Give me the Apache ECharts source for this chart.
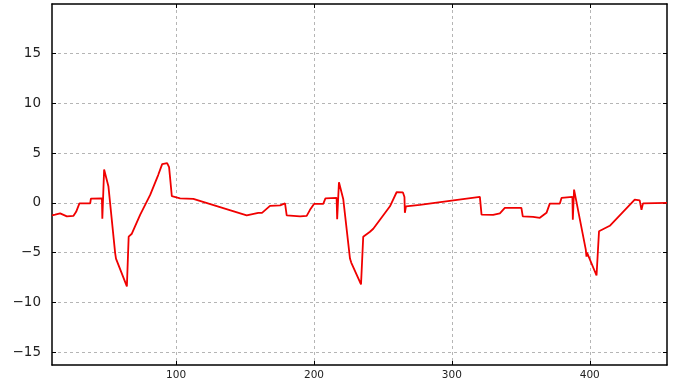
<!DOCTYPE html>
<html>
<head>
<meta charset="utf-8">
<script src="https://cdn.jsdelivr.net/npm/echarts@6/dist/echarts.min.js"></script>
<style>
html,body{margin:0;padding:0;background:#fff;}
#chart{width:685px;height:385px;}
</style>
</head>
<body>
<div id="chart"></div>
<script>
const xValues = [10, 12.3, 15.9, 20.8, 25.6, 27.5, 29.9, 37.7, 38.2, 46.2, 46.5, 47.8, 50.9, 55.8, 56.4, 57.0, 64.3, 65.6, 67.9, 73.9, 81.2, 87.0, 89.9, 91.3, 93.5, 94.9, 96.0, 96.9, 102.9, 112.5, 151.2, 159.6, 162.3, 168.1, 175.4, 179.0, 180.2, 189.9, 194.7, 197.1, 200.0, 206.7, 208.3, 216.4, 216.8, 218.1, 221.2, 226.1, 227.0, 227.6, 234.1, 235.7, 240.6, 243.0, 255.1, 259.9, 264.5, 265.6, 265.9, 266.7, 276.8, 299.8, 320.3, 321.5, 329.9, 334.8, 338.4, 350.4, 351.4, 358.9, 363.8, 368.6, 371.0, 378.3, 379.5, 387.4, 387.7, 388.6, 397.1, 397.6, 398.0, 404.9, 406.7, 414.5, 432.6, 436.2, 437.5, 438.6, 456];
const yValues = [-1.25, -1.18, -1.05, -1.35, -1.3, -0.9, -0.05, -0.05, 0.43, 0.45, -1.6, 3.36, 1.68, -5.05, -5.6, -5.4, -8.4, -3.4, -3.1, -1.2, 0.8, 2.8, 3.9, 4.05, 4.0, 3.6, 2.0, 0.67, 0.46, 0.4, -1.25, -1.0, -1.0, -0.3, -0.25, -0.05, -1.25, -1.35, -1.3, -0.7, -0.1, -0.1, 0.45, 0.5, -1.65, 2.08, 0.4, -5.6, -6.0, -5.8, -8.2, -3.4, -2.9, -2.6, -0.34, 1.07, 1.05, 0.6, -1.0, -0.35, -0.2, 0.23, 0.6, -1.18, -1.2, -1.05, -0.5, -0.5, -1.35, -1.4, -1.5, -1.0, -0.07, -0.07, 0.5, 0.6, -1.7, 1.34, -4.7, -5.4, -5.0, -7.3, -2.85, -2.3, 0.33, 0.25, -0.7, -0.05, 0.0];
const xTicks = [100, 200, 300, 400];
const yTicks = [-15, -10, -5, 0, 5, 10, 15];
const xMin = 10, xMax = 456, yMin = -16.3, yMax = 20;

const seriesData = xValues.map((x, i) => [x, yValues[i]]);
const chart = echarts.init(document.getElementById('chart'), null, {renderer: 'canvas'});
const frame = {show: true, onZero: false, lineStyle: {color: '#000', width: 1.5}};
const grid = {show: true, lineStyle: {color: '#b5b5b5', type: [3, 3], width: 1}};
chart.setOption({
  animation: false,
  backgroundColor: '#fff',
  grid: {left: 52, right: 18, top: 4, bottom: 20},
  xAxis: [{
    type: 'value', min: xMin, max: xMax, position: 'bottom',
    axisLine: frame,
    axisTick: {show: true, inside: true, length: 4, customValues: xTicks, lineStyle: {color: '#000'}},
    axisLabel: {customValues: xTicks, color: '#222', fontSize: 10.5, margin: 5, fontFamily: 'DejaVu Sans'},
    splitLine: grid
  }, {
    type: 'value', min: xMin, max: xMax, position: 'top',
    axisLine: frame,
    axisTick: {show: true, inside: true, length: 4, customValues: xTicks, lineStyle: {color: '#000'}},
    axisLabel: {show: false},
    splitLine: {show: false}
  }],
  yAxis: [{
    type: 'value', min: yMin, max: yMax, position: 'left',
    axisLine: frame,
    axisTick: {show: true, inside: true, length: 4, customValues: yTicks, lineStyle: {color: '#000'}},
    axisLabel: {customValues: yTicks, color: '#222', fontSize: 13.5, margin: 11, fontFamily: 'DejaVu Sans',
      formatter: v => (v < 0 ? '\u2212' + Math.abs(v) : String(v))},
    splitLine: grid
  }, {
    type: 'value', min: yMin, max: yMax, position: 'right',
    axisLine: frame,
    axisTick: {show: true, inside: true, length: 4, customValues: yTicks, lineStyle: {color: '#000'}},
    axisLabel: {show: false},
    splitLine: {show: false}
  }],
  series: [{
    type: 'line', data: seriesData, xAxisIndex: 0, yAxisIndex: 0,
    showSymbol: false, smooth: false,
    lineStyle: {color: '#f00000', width: 1.8},
    z: 5
  }]
});
</script>
</body>
</html>
